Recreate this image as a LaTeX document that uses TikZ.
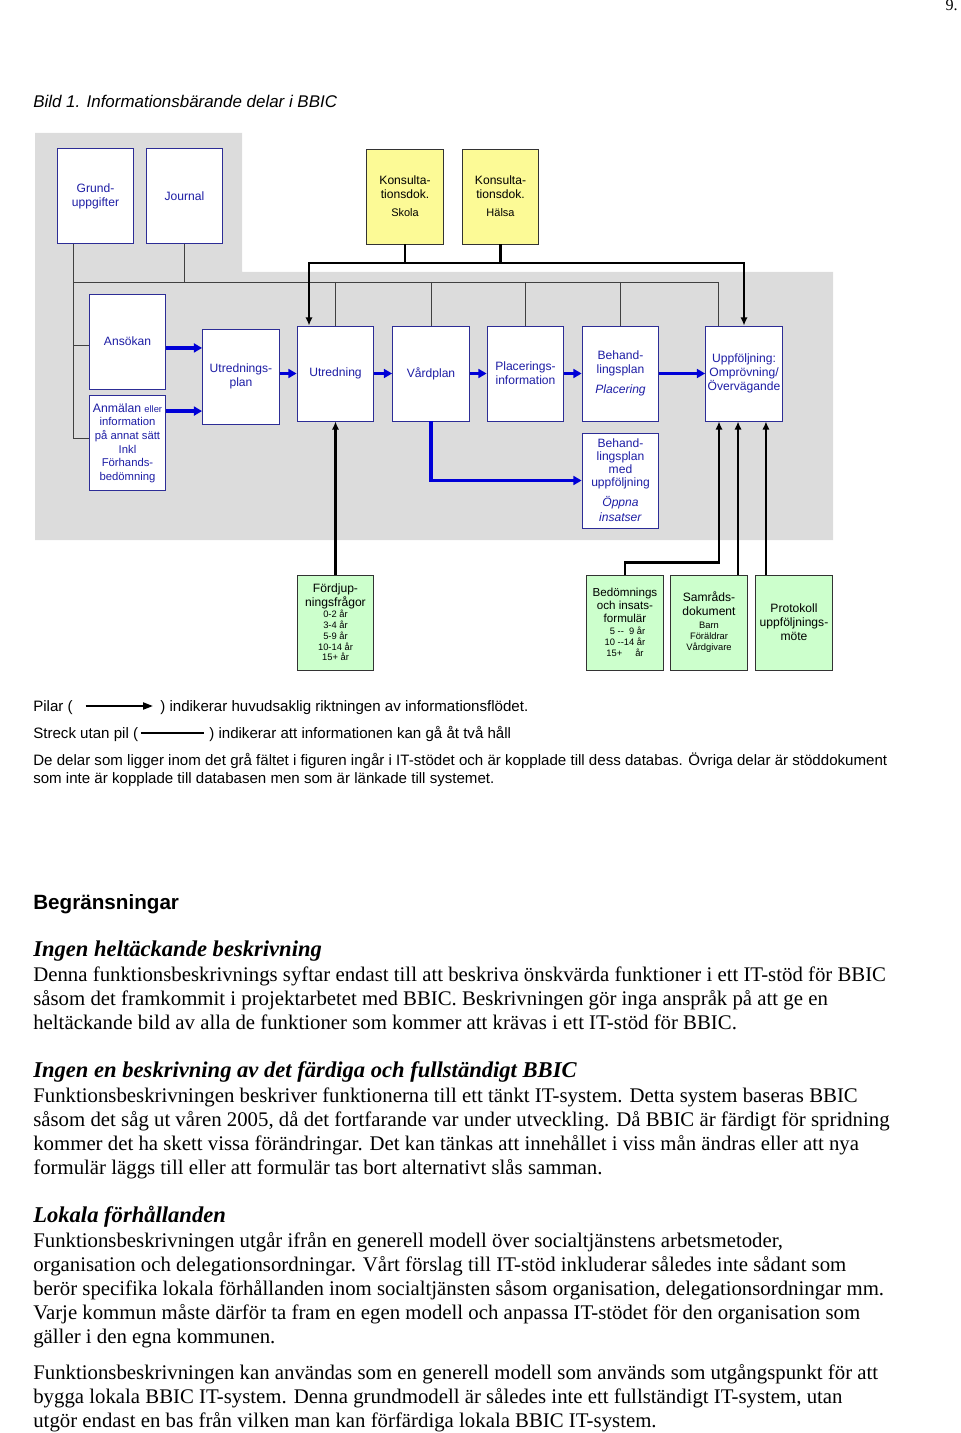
\documentclass[tikz,border=0pt]{standalone}
\usepackage{fontspec}
\setmainfont{Liberation Serif}
\newfontfamily\arialfont{Liberation Sans}
\usepackage{tikz}
\usetikzlibrary{positioning,arrows.meta}
\usepackage{xcolor}
\definecolor{dbgray}{RGB}{220,220,220}
\definecolor{boxblue}{RGB}{45,45,150}
\definecolor{textblue}{RGB}{30,30,165}
\definecolor{flowblue}{RGB}{0,0,215}
\definecolor{konsyellow}{RGB}{252,250,150}
\definecolor{docgreen}{RGB}{204,255,204}
\newcommand{\smalltxt}{\fontsize{5.8}{7}\selectfont}

\begin{document}
\begin{tikzpicture}[x=0.62pt, y=-0.62pt,
        % Node styles
        dbbox/.style={draw=boxblue, fill=white, text=textblue, line width=0.6pt, minimum width=47.7pt, minimum height=58.9pt, inner sep=1pt, align=center, font=\arialfont\fontsize{7.5}{8.7}\selectfont},
        konsbox/.style={dbbox, draw=black!80, fill=konsyellow, text=black},
        docbox/.style={dbbox, draw=black!80, fill=docgreen, text=black},
        legend/.style={anchor=base west, inner sep=0pt, font=\arialfont\fontsize{9.35}{11.2}\selectfont},
        heading/.style={anchor=base west, inner sep=0pt, font=\fontsize{14}{16}\selectfont\bfseries\itshape},
        body/.style={anchor=north west, inner sep=0pt, align=left, font=\fontsize{12.9}{14.88}\selectfont},
        % Connector styles
        flow/.style={-{Triangle[length=5pt,width=5.5pt]}, line width=2.2pt, flowblue},
        link/.style={black!75, line width=0.6pt},
        feed/.style={-{Latex[length=5pt,width=4.5pt]}, line width=1.3pt, black}
    ]
    \useasboundingbox (0,0) rectangle (960,1433);

    % Grey field = parts inside the IT support
    \fill[dbgray] (35,133) -- (242,133) -- (242,272) -- (833,272) -- (833,540) -- (35,540) -- cycle;

    % Database parts
    \node[dbbox] (grund) at (95.5,196) {Grund-\\uppgifter};
    \node[dbbox] (journal) at (184.5,196) {Journal};
    \node[dbbox] (ansokan) at (127.5,341.5) {Ansökan};
    \node[dbbox, font=\arialfont\fontsize{7}{8.4}\selectfont] (anmalan) at (127.5,443) {{\fontsize{7.6}{8.4}\selectfont Anmälan} {\smalltxt eller}\\information\\på annat sätt\\Inkl\\Förhands-\\bedömning};
    \node[dbbox] (utrplan) at (241,376.5) {Utrednings-\\plan};
    \node[dbbox] (utredning) at (335.5,373.5) {Utredning};
    \node[dbbox] (vardplan) at (431,373.5) {Vårdplan};
    \node[dbbox] (placinfo) at (525.5,373.5) {Placerings-\\information};
    \node[dbbox] (behplac) at (620.5,373.5) {Behand-\\lingsplan\\[3.5pt]\textit{Placering}};
    \node[dbbox] (uppf) at (744,373.5) {Uppföljning:\\Omprövning/\\Övervägande};
    \node[dbbox, font=\arialfont\fontsize{7.5}{8.1}\selectfont] (behupp) at (620.5,480.5) {Behand-\\lingsplan\\med\\uppföljning\\[4.3pt]\textit{Öppna}\\[1.2pt]\textit{insatser}};

    % Consultation documents
    \node[konsbox] (skola) at (405,196.5) {Konsulta-\\tionsdok.\\[2.5pt]{\fontsize{6.8}{7}\selectfont Skola}};
    \node[konsbox] (halsa) at (500.5,196.5) {Konsulta-\\tionsdok.\\[2.5pt]{\fontsize{6.8}{7}\selectfont Hälsa}};

    % Support documents outside the system
    \node[docbox] (fordj) at (335.5,622.5) {Fördjup-\\ningsfrågor\\[-1.9pt]{\smalltxt 0-2 år}\\[-2pt]{\smalltxt 3-4 år}\\[-2pt]{\smalltxt 5-9 år}\\[-2pt]{\smalltxt 10-14 år}\\[-2pt]{\smalltxt 15+ år}};
    \node[docbox, font=\arialfont\fontsize{7.2}{8.1}\selectfont] (bedom) at (625,622.5) {Bedömnings\\och insats-\\formulär\\[-1pt]{\smalltxt\ \ 5 -- \ 9 år}\\[-1pt]{\smalltxt 10 --14 år}\\[-1pt]{\smalltxt 15+\ \ \ \ \ år}};
    \node[docbox] (samrad) at (709,622.5) {Samråds-\\dokument\\[-0.6pt]{\smalltxt Barn}\\[-1.9pt]{\smalltxt Föräldrar}\\[-1.9pt]{\smalltxt Vårdgivare}};
    \node[docbox] (protokoll) at (794,622.5) {Protokoll\\uppföljnings-\\möte};

    % Database lines (no arrows)
    \coordinate (dbL) at (73,282);
    \coordinate (dbR) at (718,282);
    \draw[link] (grund.south -| dbL) |- ([yshift=2.5pt]anmalan.west);
    \draw[link] ([yshift=-2.2pt]ansokan.west -| dbL) -- ([yshift=-2.2pt]ansokan.west);
    \draw[link] (journal.south) -- (journal.south |- dbL);
    \draw[link] (dbL) -- (dbR) -- (dbR |- uppf.north);
    \draw[link] (utredning.north |- dbL) -- (utredning.north);
    \draw[link] (vardplan.north |- dbL) -- (vardplan.north);
    \draw[link] (placinfo.north |- dbL) -- (placinfo.north);
    \draw[link] (behplac.north |- dbL) -- (behplac.north);

    % Consultation lines
    \coordinate (kL) at (309,263);
    \coordinate (kR) at (744,263);
    \draw[line width=1.3pt] (skola.south) -- (skola.south |- kL);
    \draw[line width=1.3pt] (halsa.south) -- (halsa.south |- kL);
    \draw[feed, {Latex[length=5pt,width=4.5pt]}-{Latex[length=5pt,width=4.5pt]}] (kL |- utredning.north) -- (kL) -- (kR) -- (uppf.north);

    % Main information flow
    \draw[flow] ([yshift=-4pt]ansokan.east) -- ([yshift=-4pt]ansokan.east -| utrplan.west);
    \draw[flow] ([yshift=19.8pt]anmalan.east) -- ([yshift=19.8pt]anmalan.east -| utrplan.west);
    \draw[flow] (utrplan.east |- utredning.west) -- (utredning.west);
    \draw[flow] (utredning.east) -- (vardplan.west);
    \draw[flow] (vardplan.east) -- (placinfo.west);
    \draw[flow] (placinfo.east) -- (behplac.west);
    \draw[flow] (behplac.east) -- (uppf.west);
    \draw[flow] (vardplan.south) |- (behupp.west);

    % Support documents into the system
    \coordinate (in1) at ([xshift=-15.5pt]uppf.south);
    \coordinate (in2) at ([xshift=-3.7pt]uppf.south);
    \coordinate (in3) at ([xshift=13.6pt]uppf.south);
    \draw[feed] (fordj.north) -- (utredning.south);
    \draw[feed] (bedom.north) -- ++(0,-12) -| (in1);
    \draw[feed] (samrad.north -| in2) -- (in2);
    \draw[feed] (protokoll.north -| in3) -- (in3);

    % Page text
    \node[anchor=base east, inner sep=0pt, font=\fontsize{10}{12}\selectfont] (pagenum) at (958,11) {9.};
    \node[anchor=base west, inner sep=0pt, font=\arialfont\itshape\fontsize{10.5}{12}\selectfont] (caption) at (33,108) {Bild 1. Informationsbärande delar i BBIC};

    % Legend
    \node[legend] (pilA) at (33,711) {Pilar (};
    \node[legend] (pilB) at (160,711) {) indikerar huvudsaklig riktningen av informationsflödet.};
    \draw[-{Triangle[length=6pt,width=4.5pt]}, line width=0.8pt] ([shift={(7.8pt,3.1pt)}]pilA.base east) -- ([shift={(-4.5pt,3.1pt)}]pilB.base west);
    \node[legend] (strA) at (33,738) {Streck utan pil (};
    \node[legend] (strB) at (209,738) {) indikerar att informationen kan gå åt två håll};
    \draw[line width=0.8pt] ([shift={(1.5pt,3.1pt)}]strA.base east) -- ([shift={(-3pt,3.1pt)}]strB.base west);
    \node[legend, anchor=north west, align=left] (legtext) at (33,752.4) {\strut De delar som ligger inom det grå fältet i figuren ingår i IT-stödet och är kopplade till dess databas. Övriga delar är stöddokument\\som inte är kopplade till databasen men som är länkade till systemet.};

    % Text below the picture
    \node[anchor=base west, inner sep=0pt, font=\arialfont\bfseries\fontsize{12.8}{15}\selectfont] (hdr) at (33,909) {Begränsningar};
    \node[heading] (h1) at (33,956) {Ingen heltäckande beskrivning};
    \node[body] (p1) at (33,964.2) {\strut Denna funktionsbeskrivnings syftar endast till att beskriva önskvärda funktioner i ett IT-stöd för BBIC\\såsom det framkommit i projektarbetet med BBIC. Beskrivningen gör inga anspråk på att ge en\\heltäckande bild av alla de funktioner som kommer att krävas i ett IT-stöd för BBIC.};
    \node[heading] (h2) at (33,1077) {Ingen en beskrivning av det färdiga och fullständigt BBIC};
    \node[body] (p2) at (33,1085.2) {\strut Funktionsbeskrivningen beskriver funktionerna till ett tänkt IT-system. Detta system baseras BBIC\\såsom det såg ut våren 2005, då det fortfarande var under utveckling. Då BBIC är färdigt för spridning\\kommer det ha skett vissa förändringar. Det kan tänkas att innehållet i viss mån ändras eller att nya\\formulär läggs till eller att formulär tas bort alternativt slås samman.};
    \node[heading] (h3) at (33,1222) {Lokala förhållanden};
    \node[body] (p3) at (33,1230.2) {\strut Funktionsbeskrivningen utgår ifrån en generell modell över socialtjänstens arbetsmetoder,\\organisation och delegationsordningar. Vårt förslag till IT-stöd inkluderar således inte sådant som\\berör specifika lokala förhållanden inom socialtjänsten såsom organisation, delegationsordningar mm.\\Varje kommun måste därför ta fram en egen modell och anpassa IT-stödet för den organisation som\\gäller i den egna kommunen.};
    \node[body] (p4) at (33,1362.2) {\strut Funktionsbeskrivningen kan användas som en generell modell som används som utgångspunkt för att\\bygga lokala BBIC IT-system. Denna grundmodell är således inte ett fullständigt IT-system, utan\\utgör endast en bas från vilken man kan förfärdiga lokala BBIC IT-system.};

\end{tikzpicture}
\end{document}
